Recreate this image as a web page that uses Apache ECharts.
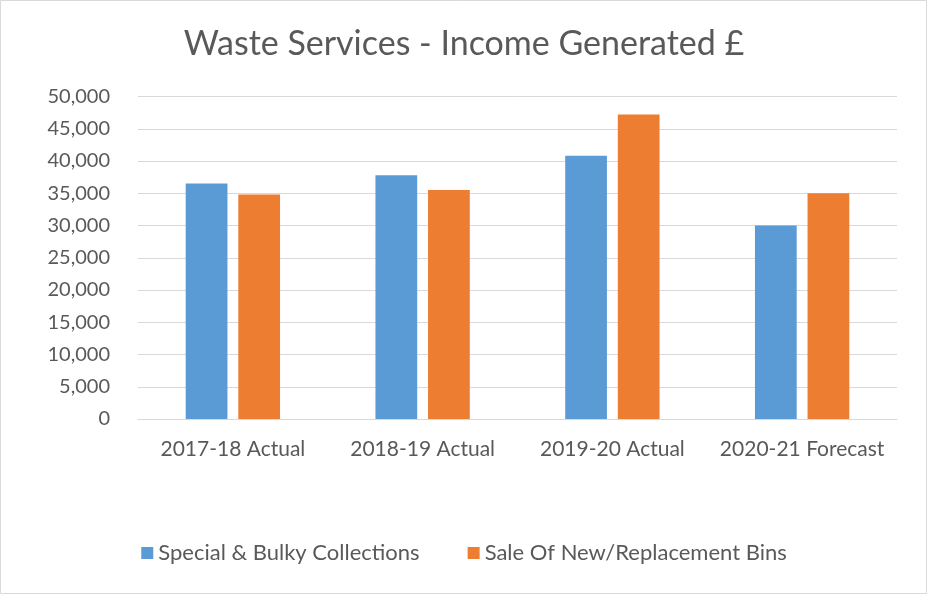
<!DOCTYPE html>
<html>
<head>
<meta charset="utf-8">
<script src="https://cdn.jsdelivr.net/npm/echarts@6/dist/echarts.min.js"></script>
<style>
	html, body { margin: 0; padding: 0; background: #fff; }
	#chart { width: 928px; height: 595px; }
</style>
</head>
<body>
<div id="chart"></div>
<script>
	// 数据
	const categories = ['2017-18 Actual', '2018-19 Actual', '2019-20 Actual', '2020-21 Forecast'];
	const specialBulky = [36500, 37800, 40800, 30000];
	const binSales = [34800, 35500, 47200, 35000];
	const seriesNames = ['Special & Bulky Collections', 'Sale Of New/Replacement Bins'];

	const font = 'Lato, "Open Sans", sans-serif';
	const chart = echarts.init(document.getElementById('chart'));

	const option = {
		color: ['#5B9BD5', '#ED7D31'],
		textStyle: { fontFamily: font },
		graphic: [{
			type: 'rect',
			shape: { x: 0.5, y: 0.5, width: 926, height: 593 },
			style: { fill: 'none', stroke: '#d9d9d9', lineWidth: 1 },
			silent: true
		}],
		title: {
			text: 'Waste Services - Income Generated £',
			left: 'center',
			top: 22,
			textStyle: { fontFamily: font, fontSize: 34, fontWeight: 'normal', color: '#595959' }
		},
		legend: {
			bottom: 26,
			left: 'center',
			icon: 'rect',
			itemWidth: 12,
			itemHeight: 12,
			itemGap: 48,
			textStyle: { fontFamily: font, fontSize: 22, color: '#595959' },
			data: seriesNames
		},
		grid: {
			left: 138,
			right: 31,
			top: 96.5,
			bottom: 176,
			containLabel: false
		},
		xAxis: {
			type: 'category',
			data: categories,
			axisLine: { lineStyle: { color: '#d9d9d9', width: 1 } },
			axisTick: { show: false },
			axisLabel: { interval: 0, fontFamily: font, fontSize: 21, color: '#595959', margin: 20 }
		},
		yAxis: {
			type: 'value',
			min: 0,
			max: 50000,
			interval: 5000,
			axisLine: { show: false },
			axisTick: { show: false },
			splitLine: { lineStyle: { color: '#d9d9d9', width: 1 } },
			axisLabel: {
				fontFamily: font,
				fontSize: 20,
				color: '#595959',
				margin: 28,
				formatter: v => v.toLocaleString('en-GB')
			}
		},
		series: [
			{
				name: seriesNames[0],
				type: 'bar',
				barWidth: '22%',
				barGap: '26%',
				data: specialBulky
			},
			{
				name: seriesNames[1],
				type: 'bar',
				barWidth: '22%',
				data: binSales
			}
		]
	};
	chart.setOption(option);
</script>
</body>
</html>
